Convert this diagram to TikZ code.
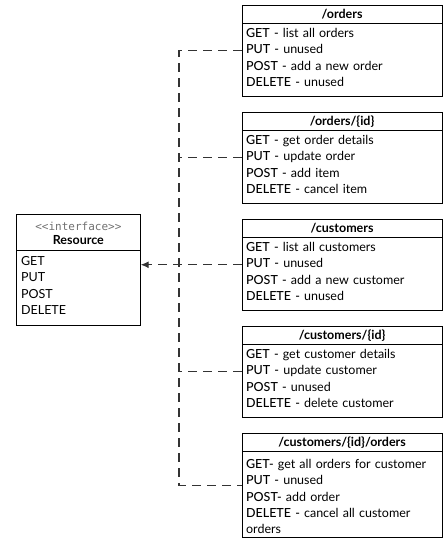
\documentclass[tikz,border=0pt]{standalone}
\usepackage{fontspec}
\setmainfont{Lato}
\newfontfamily\stereofont{DejaVu Sans Mono}
\IfFontExistsTF{Lato Medium}{\newfontfamily\semifont{Lato Medium}}{%
	\IfFontExistsTF{Lato Semibold}{\newfontfamily\semifont{Lato Semibold}}{\let\semifont\relax}}
\usetikzlibrary{arrows.meta,positioning,shapes.multipart}
\definecolor{StereoGray}{HTML}{707070}
\definecolor{LinkGray}{HTML}{333333}
\newcommand{\topln}[1]{\rule{0pt}{#1}}
\newcommand{\botln}[1]{\rule[-#1]{0pt}{#1}}
\newcommand{\head}[1]{\centering\textbf{\rule[-4bp]{0pt}{17bp}#1}\par}
\newcommand{\op}[1]{{\semifont #1}}

\begin{document}
\begin{tikzpicture}[
	node distance=14.5bp,
	cls/.style={draw, line width=1.2bp, rectangle split, rectangle split parts=2,
		text width=192bp, inner xsep=4bp, inner ysep=0pt,
		font=\fontsize{12.5bp}{16.3bp}\selectfont},
	iface/.style={cls, text width=114.5bp, inner xsep=4.5bp},
	dep/.style={draw=LinkGray, line width=1.1bp, dash pattern=on 9bp off 6bp}
]
\useasboundingbox (0,0) rectangle (448bp,-542bp);

% interface
\node[iface, anchor=north west] (resource) at (16bp,-214bp) {%
	\nodepart{one}\centering\fontsize{12.5bp}{14.5bp}\selectfont\topln{15bp}{\stereofont\fontsize{11bp}{14.5bp}\selectfont\color{StereoGray}<<interface>>}\\
	\textbf{Resource}\botln{5bp}\par
	\nodepart{two}\topln{14.5bp}GET\\PUT\\POST\\DELETE\botln{10.5bp}};

% resources
\node[cls, anchor=north west] (orders) at (241.5bp,-4.5bp) {%
	\nodepart{one}\head{/orders}
	\nodepart{two}\topln{13.5bp}\op{GET -} list all orders\\\op{PUT -} unused\\\op{POST -} add a new order\\\op{DELETE -} unused\botln{9.5bp}};
\node[cls, below=of orders] (order) {%
	\nodepart{one}\head{/orders/\{id\}}
	\nodepart{two}\topln{13.5bp}\op{GET -} get order details\\\op{PUT -} update order\\\op{POST -} add item\\\op{DELETE -} cancel item\botln{9.5bp}};
\node[cls, below=of order] (customers) {%
	\nodepart{one}\head{/customers}
	\nodepart{two}\topln{13.5bp}\op{GET -} list all customers\\\op{PUT -} unused\\\op{POST -} add a new customer\\\op{DELETE -} unused\botln{9.5bp}};
\node[cls, below=of customers] (customer) {%
	\nodepart{one}\head{/customers/\{id\}}
	\nodepart{two}\topln{13.5bp}\op{GET -} get customer details\\\op{PUT -} update customer\\\op{POST -} unused\\\op{DELETE -} delete customer\botln{9.5bp}};
\node[cls, below=of customer] (custorders) {%
	\nodepart{one}\head{/customers/\{id\}/orders}
	\nodepart{two}\topln{16.5bp}\op{GET-} get all orders for customer\\\op{PUT -} unused\\\op{POST-} add order\\\op{DELETE -} cancel all customer\\orders\botln{3bp}};

% links
\coordinate (bus) at (179bp,-269bp);
\draw[dep] (orders.west) -| (bus) |- (custorders.west);
\draw[dep] (order.west) -- (order.west -| bus);
\draw[dep] (customer.west) -- (customer.west -| bus);
\draw[dep, -{Latex[length=8bp, width=7bp]}] (customers.west) -- (customers.west -| resource.east);
\end{tikzpicture}
\end{document}
